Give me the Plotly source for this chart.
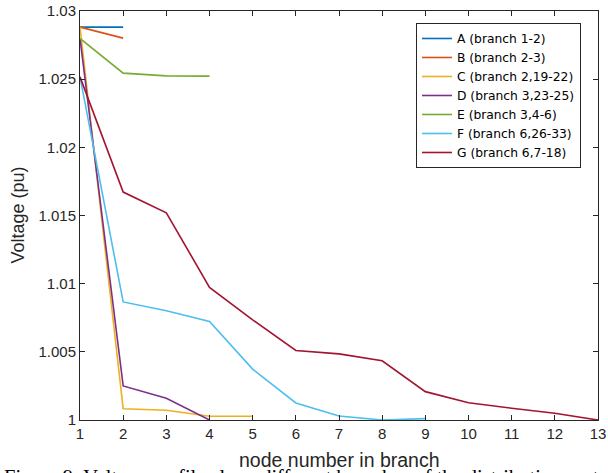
import plotly.graph_objects as go

names = ["A (branch 1-2)", "B (branch 2-3)", "C (branch 2,19-22)", "D (branch 3,23-25)",
         "E (branch 3,4-6)", "F (branch 6,26-33)", "G (branch 6,7-18)"]
colors = ["#0072BD", "#D95319", "#EDB120", "#7E2F8E", "#77AC30", "#4DBEEE", "#A2142F"]

A = [1.02882, 1.02882]
B = [1.02882, 1.02801]
C = [1.02882, 1.00083, 1.00071, 1.00027, 1.00027]
D = [1.02799, 1.00250, 1.00160, 1.00000]
E = [1.02799, 1.02544, 1.02524, 1.02522]
F = [1.02517, 1.00866, 1.00801, 1.00723, 1.00373, 1.00125, 1.00029, 1.00000, 1.00010]
G = [1.02517, 1.01672, 1.01520, 1.00973, 1.00735, 1.00510, 1.00485, 1.00434,
     1.00208, 1.00127, 1.00086, 1.00049, 1.00000]
series = [A, B, C, D, E, F, G]

xticks = list(range(1, 14))
yticks = [1.0, 1.005, 1.01, 1.015, 1.02, 1.025, 1.03]
ytext = ["1", "1.005", "1.01", "1.015", "1.02", "1.025", "1.03"]

fig = go.Figure()
for nm, col, s in zip(names, colors, series):
    fig.add_trace(go.Scatter(x=list(range(1, len(s) + 1)), y=s, mode="lines", name=nm,
                             line=dict(color=col, width=1.6)))

axfont = dict(family="Liberation Sans, Arial, sans-serif", size=15, color="#262626")
fig.update_layout(
    width=608, height=473,
    margin=dict(l=80, r=10, t=11, b=53),
    paper_bgcolor="white", plot_bgcolor="white",
    font=axfont,
    showlegend=True,
    legend=dict(x=0.6486, y=0.9707, xanchor="left", yanchor="top",
                bgcolor="white", bordercolor="#262626", borderwidth=1,
                font=dict(family="DejaVu Sans, sans-serif", size=12.3, color="#000000"),
                tracegroupgap=0, itemwidth=30),
    xaxis=dict(range=[1, 13], tickvals=xticks, ticks="inside", ticklen=5, tickcolor="#262626",
               showline=True, linecolor="#262626", linewidth=1, mirror="ticks",
               showgrid=False, zeroline=False, tickfont=axfont, automargin=False),
    yaxis=dict(range=[1.0, 1.03], tickvals=yticks, ticktext=ytext, ticks="inside", ticklen=5,
               tickcolor="#262626", showline=True, linecolor="#262626", linewidth=1,
               mirror="ticks", showgrid=False, zeroline=False, tickfont=axfont, automargin=False),
    annotations=[
        dict(text="node number in branch", xref="paper", yref="paper", x=0.5, y=0,
             xanchor="center", yanchor="middle", yshift=-40, showarrow=False,
             font=dict(family="Liberation Sans, Arial, sans-serif", size=19.5, color="#262626")),
        dict(text="Voltage (pu)", xref="paper", yref="paper", x=0, y=0.5,
             xanchor="center", yanchor="middle", xshift=-63, textangle=-90, showarrow=False,
             font=dict(family="Liberation Sans, Arial, sans-serif", size=18, color="#262626")),
        dict(text="Figure 9: Voltage profile along different branches of the distribution system",
             xref="paper", yref="paper", x=0, y=0, xanchor="left", yanchor="top",
             xshift=-78, yshift=-44, showarrow=False, align="left",
             font=dict(family="Liberation Serif, Times New Roman, serif", size=20.5, color="#000000")),
    ],
)

fig.write_html("out.html", config={"displayModeBar": False},
               post_script="document.body.style.margin='0';document.body.style.overflow='hidden';")
